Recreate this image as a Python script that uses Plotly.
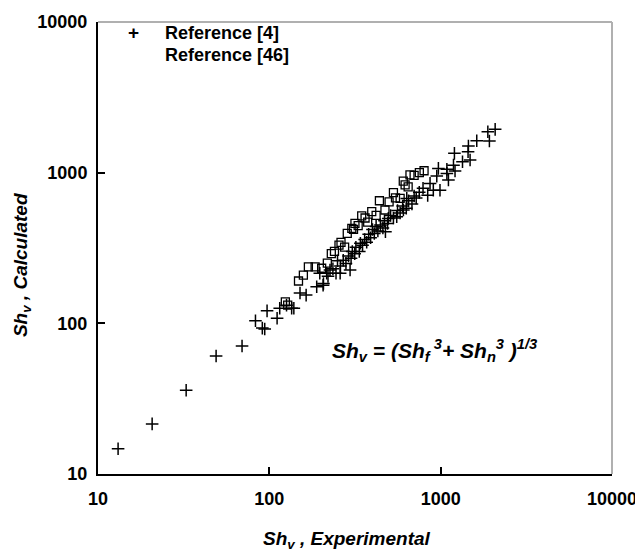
import plotly.graph_objects as go

# Reference [4] (plus markers)
ref4_exp = [13.1, 20.7, 32.7, 48.9, 69.3, 83, 94, 91, 97, 111, 115, 126, 135, 139, 151, 164,
            189, 207, 197, 216, 206, 226, 259, 296, 220, 235, 245, 250, 260, 270, 280, 290,
            300, 305, 315, 320, 335, 340, 350, 360, 370, 380, 390, 400, 410, 420, 430, 445,
            460, 470, 476, 490, 495, 510, 530, 554, 560, 580, 600, 606, 630, 634, 650, 680,
            700, 720, 750, 789, 840, 867, 906, 949, 970, 991, 1087, 1087, 1110, 1188, 1203,
            1213, 1341, 1445, 1452, 1485, 1624, 1885, 1925, 2080]
ref4_calc = [14.7, 21.5, 36, 60.7, 70.7, 104, 91.6, 93, 121, 108, 126, 132, 126, 126, 159, 154,
             175, 184, 215, 215, 179, 226, 215, 226, 205, 230, 215, 260, 240, 262, 250, 280,
             270, 300, 290, 320, 300, 340, 330, 360, 345, 390, 370, 420, 395, 440, 410, 450,
             430, 480, 406, 460, 497, 520, 500, 510, 560, 540, 600, 565, 580, 675, 650, 620,
             700, 680, 740, 788, 707, 849, 765, 949, 1067, 765, 1052, 989, 893, 1122, 1343,
             1025, 1181, 1378, 1503, 1213, 1629, 1868, 1622, 1938]

# Reference [46] (open squares)
ref46_exp = [124, 128, 148, 158, 169, 185, 202, 218, 230, 240, 255, 262, 275, 285, 303, 316,
             330, 346, 362, 396, 439, 473, 530, 580, 605, 646, 662, 751, 800, 310, 375, 420,
             500, 545, 620, 700]
ref46_calc = [139, 132, 191, 209, 237, 237, 232, 251, 290, 300, 330, 345, 320, 395, 427, 461,
              445, 516, 500, 551, 651, 565, 736, 675, 880, 806, 966, 1000, 1030, 420, 470, 520,
              640, 680, 830, 960]

FONT = "Liberation Sans, Arial, sans-serif"


def bold_font(size):
    return dict(family=FONT, size=size, color="black", weight="bold")


fig = go.Figure()

fig.add_trace(go.Scatter(
    x=ref4_exp, y=ref4_calc, mode="markers", name="Reference [4]",
    marker=dict(symbol="cross-thin-open", size=9, color="black",
                line=dict(color="black", width=1.5)),
))
fig.add_trace(go.Scatter(
    x=ref46_exp, y=ref46_calc, mode="markers", name="Reference [46]",
    marker=dict(symbol="square-open", size=8, color="black",
                line=dict(color="black", width=1.3)),
))

axis_common = dict(
    type="log", range=[1, 4], automargin=False,
    ticks="inside", ticklen=7, tickwidth=1.5, tickcolor="black",
    showgrid=False, zeroline=False, showline=True, linecolor="black", linewidth=2,
    tickvals=[10, 100, 1000, 10000], ticktext=["10", "100", "1000", "10000"],
    tickfont=bold_font(18),
)

fig.update_layout(
    width=643, height=553,
    margin=dict(l=90, r=39, t=14, b=87),
    paper_bgcolor="white", plot_bgcolor="white",
    showlegend=False,
    xaxis=dict(axis_common, ticklabelstandoff=7),
    yaxis=dict(axis_common, ticklabelstandoff=5),
)

# light grey top/right frame
fig.add_shape(type="line", xref="paper", yref="paper", x0=0, x1=1, y0=1, y1=1,
              line=dict(color="#b0b0b0", width=2))
fig.add_shape(type="line", xref="paper", yref="paper", x0=1, x1=1, y0=0, y1=1,
              line=dict(color="#b0b0b0", width=2))

# axis titles
fig.add_annotation(xref="paper", yref="paper", x=0.484, y=-0.146,
                   text="<i>Sh<sub>v</sub> , Experimental</i>", showarrow=False,
                   xanchor="center", yanchor="middle", font=bold_font(19))
fig.add_annotation(xref="paper", yref="paper", x=-0.148, y=0.462, textangle=-90,
                   text="<i>Sh<sub>v</sub> , Calculated</i>", showarrow=False,
                   xanchor="center", yanchor="middle", font=bold_font(19))

# legend drawn as text
fig.add_annotation(xref="paper", yref="paper", x=0.07, y=0.976, text="+",
                   showarrow=False, xanchor="center", yanchor="middle", font=bold_font(19))
fig.add_annotation(xref="paper", yref="paper", x=0.126, y=0.976, text="Reference [4]",
                   showarrow=False, xanchor="left", yanchor="middle", font=bold_font(18))
fig.add_annotation(xref="paper", yref="paper", x=0.126, y=0.927, text="Reference [46]",
                   showarrow=False, xanchor="left", yanchor="middle", font=bold_font(18))

# correlation equation
fig.add_annotation(xref="paper", yref="paper", x=0.451, y=0.274,
                   text="<i>Sh<sub>v</sub> = (Sh<sub>f</sub><sup> 3</sup>+ Sh<sub>n</sub><sup>3</sup> )<sup>1/3</sup></i>",
                   showarrow=False, xanchor="left", yanchor="middle", font=bold_font(21))

fig.write_html("out.html")
